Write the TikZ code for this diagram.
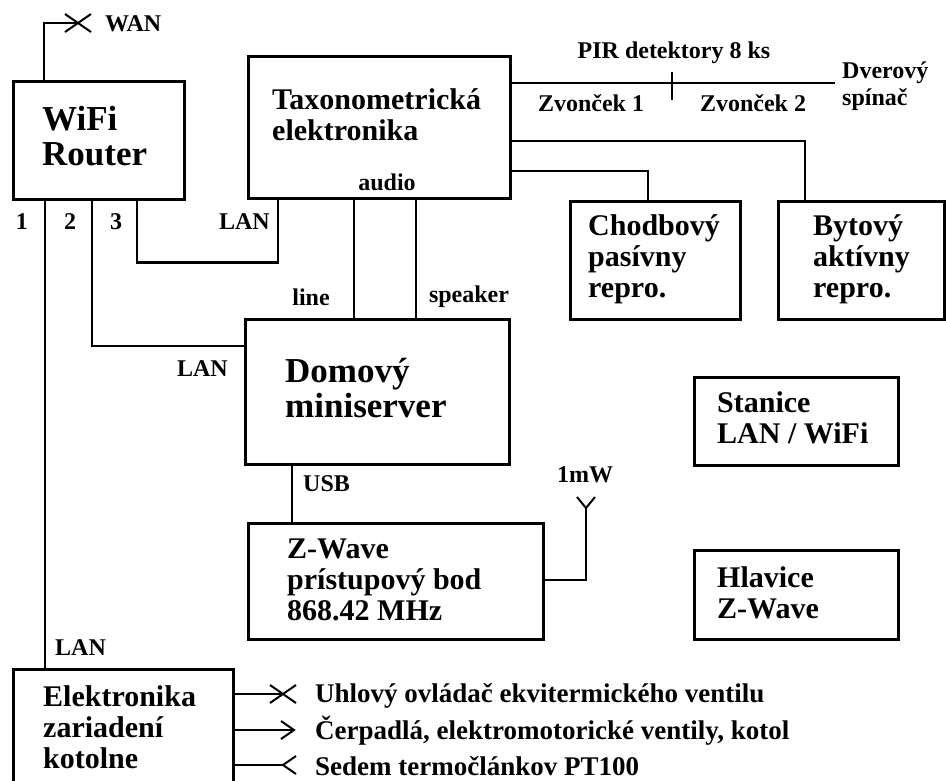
\documentclass[tikz,border=0pt]{standalone}
\usepackage{fontspec}
\setmainfont{Liberation Serif}
\usetikzlibrary{calc}
\tikzset{
  box/.style={draw, line width=2.6pt, inner sep=0pt, anchor=north west},
  wire/.style={line width=2.6pt},
  tipline/.style={line width=2pt},
  lbl/.style={font=\fontsize{24}{27}\selectfont\bfseries, inner sep=0pt, align=left},
  mid/.style={font=\fontsize{30}{31}\selectfont\bfseries, inner sep=0pt, align=left, anchor=west},
  big/.style={font=\fontsize{35}{35}\selectfont\bfseries, inner sep=0pt, align=left, anchor=west},
  outl/.style={font=\fontsize{27}{28}\selectfont\bfseries, inner sep=0pt, anchor=west},
}
\begin{document}
\begin{tikzpicture}[x=1pt,y=-1pt]
\useasboundingbox (0,0) rectangle (946,780);
\clip (0,0) rectangle (946,780);
% boxes
\node[box, minimum width=171pt, minimum height=118pt] (router) at (12,80) {};
\node[box, minimum width=262pt, minimum height=142pt] (taxo) at (247,55) {};
\node[box, minimum width=170pt, minimum height=118pt] (chod) at (569,200) {};
\node[box, minimum width=166pt, minimum height=118pt] (byt) at (777,200) {};
\node[box, minimum width=264pt, minimum height=145pt] (dom) at (244,318) {};
\node[box, minimum width=204pt, minimum height=88pt] (stan) at (693,376) {};
\node[box, minimum width=204pt, minimum height=89pt] (hlav) at (693,549) {};
\node[box, minimum width=295pt, minimum height=116pt] (zw) at (247,522) {};
\node[box, minimum width=220pt, minimum height=140pt] (elek) at (12,668) {};
% box texts
\node[big] (routert) at (42,136) {WiFi\\Router};
\node[mid] (taxot) at (272,115) {Taxonometrická\\elektronika};
\node[mid] (chodt) at (588,259) {Chodbový\\pasívny\\repro.};
\node[mid] (bytt) at (813,259) {Bytový\\aktívny\\repro.};
\node[big] (domt) at (285,388) {Domový\\miniserver};
\node[mid] (stant) at (717,418) {Stanice\\LAN / WiFi};
\node[mid] (hlavt) at (717,593) {Hlavice\\Z-Wave};
\node[mid] (zwt) at (287,580) {Z-Wave\\prístupový bod\\868.42 MHz};
\node[mid] (elekt) at (43,727) {Elektronika\\zariadení\\kotolne};
% WAN
\coordinate (wan) at (78,23);
\draw[wire] ($(router.north west)+(32,0)$) |- (wan);
\draw[tipline] (wan) ++(-13,-9) -- ++(26,18) (wan) ++(-13,9) -- ++(26,-18);
\node[lbl, anchor=west] (wanl) at (105,24) {WAN};
% router ports
\draw[wire] ($(router.south west)+(33,0)$) -- ($(elek.north west)+(33,0)$);
\draw[wire] ($(router.south west)+(80,0)$) |- ($(dom.north west)+(0,28)$);
\draw[wire] ($(router.south west)+(125,0)$) |- ($(taxo.south west)+(31,63)$) -- ($(taxo.south west)+(31,0)$);
\node[lbl] (p1) at (22,222) {1};
\node[lbl] (p2) at (70,222) {2};
\node[lbl] (p3) at (116,222) {3};
\node[lbl, anchor=east] (lan1) at (270,222) {LAN};
\node[lbl, anchor=east] (lan2) at (228,369) {LAN};
\node[lbl, anchor=west] (lan3) at (55,648) {LAN};
% taxo outputs
\coordinate (pirend) at (835,83);
\draw[wire] ($(taxo.north east)+(0,28)$) -- (pirend);
\coordinate (tick) at (672,86);
\draw[wire] ($(tick)+(0,-14)$) -- ($(tick)+(0,14)$);
\node[lbl] (pir) at (674,53) {PIR detektory 8 ks};
\node[lbl] (zv1) at (591,103) {Zvonček 1};
\node[lbl] (zv2) at (753,103) {Zvonček 2};
\node[lbl, anchor=west] (dver) at (842,86) {Dverový\\spínač};
\draw[wire] ($(taxo.north east)+(0,86)$) -| ($(byt.north west)+(28,0)$);
\draw[wire] ($(taxo.north east)+(0,116)$) -| ($(chod.north west)+(79,0)$);
% audio
\node[lbl] (audio) at (387,182) {audio};
\draw[wire] ($(taxo.south west)+(107,0)$) -- ($(dom.north west)+(110,0)$);
\draw[wire] ($(taxo.south west)+(169,0)$) -- ($(dom.north west)+(172,0)$);
\node[lbl] (linel) at (311,297) {line};
\node[lbl] (spk) at (469,297) {speaker};
% USB
\draw[wire] ($(dom.south west)+(48,0)$) -- ($(zw.north west)+(45,0)$);
\node[lbl, anchor=west] (usb) at (303,484) {USB};
% antenna
\coordinate (ant) at (586,508);
\draw[wire] ($(zw.north east)+(0,58)$) -| (ant);
\draw[tipline] ($(ant)+(-9,-11)$) -- (ant) -- ($(ant)+(9,-11)$);
\node[lbl] (mw) at (585,475) {1mW};
% boiler outputs
\coordinate (o1) at (283,694);
\coordinate (o2) at (294,730);
\coordinate (o3) at (283,765);
\draw[wire] ($(elek.north west)+(220,26)$) -- (o1);
\draw[tipline] (o1) ++(-13,-9) -- ++(26,18) (o1) ++(-13,9) -- ++(26,-18);
\draw[wire] ($(elek.north west)+(220,62)$) -- (o2);
\draw[tipline] ($(o2)+(-13,-9)$) -- (o2) -- ($(o2)+(-13,9)$);
\draw[wire] ($(elek.north west)+(220,97)$) -- (o3);
\draw[tipline] ($(o3)+(13,-9)$) -- (o3) -- ($(o3)+(13,9)$);
\node[outl] (t1) at (315,696) {Uhlový ovládač ekvitermického ventilu};
\node[outl] (t2) at (315,731) {Čerpadlá, elektromotorické ventily, kotol};
\node[outl] (t3) at (315,766) {Sedem termočlánkov PT100};
\end{tikzpicture}
\end{document}
